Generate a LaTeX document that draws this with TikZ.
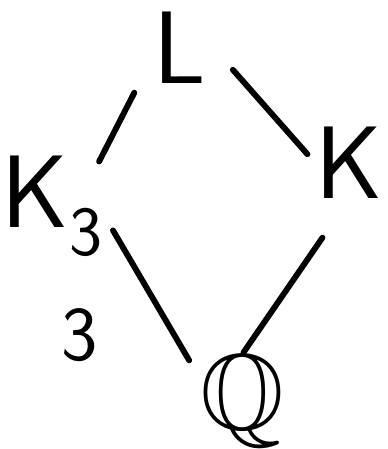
\documentclass[tikz,border=0pt]{standalone}
\usepackage{amsmath,amssymb}
\usepackage{tikz}
\usetikzlibrary{positioning}
\tikzset{
  field/.style={inner sep=0pt,font=\fontsize{88}{88}\selectfont\sffamily},
  ext/.style={draw=black,line width=5pt,line cap=round},
  deg/.style={inner sep=0pt,font=\fontsize{66}{66}\selectfont\sffamily},
}
\begin{document}
\begin{tikzpicture}[x=0.03cm,y=-0.03cm]
  \useasboundingbox (0,0) rectangle (387,449);
  % the four fields
  \node[field] (l) at (180,48) {L};
  \node[field] (kthree) at (52,206) {K\raisebox{-0.85cm}{\fontsize{60}{60}\selectfont 3}};
  \node[field] (k) at (349,163) {K};
  \node[field,font=\fontsize{92}{92}\selectfont\boldmath] (q) at (242,401) {$\mathbb{Q}$};
  % inclusions
  \draw[ext,shorten <=36pt,shorten >=-6pt] (l.195) -- (kthree.north east);
  \draw[ext,shorten <=34pt,shorten >=10pt] (l.17) -- (k.west);
  \draw[ext,shorten <=18pt,shorten >=18pt] (kthree.-7) -- (q.152);
  \draw[ext,shorten <=40pt,shorten >=2pt] (k.south) -- (q.north);
  \node[deg] (three) at (80,335) {3};
\end{tikzpicture}
\end{document}
